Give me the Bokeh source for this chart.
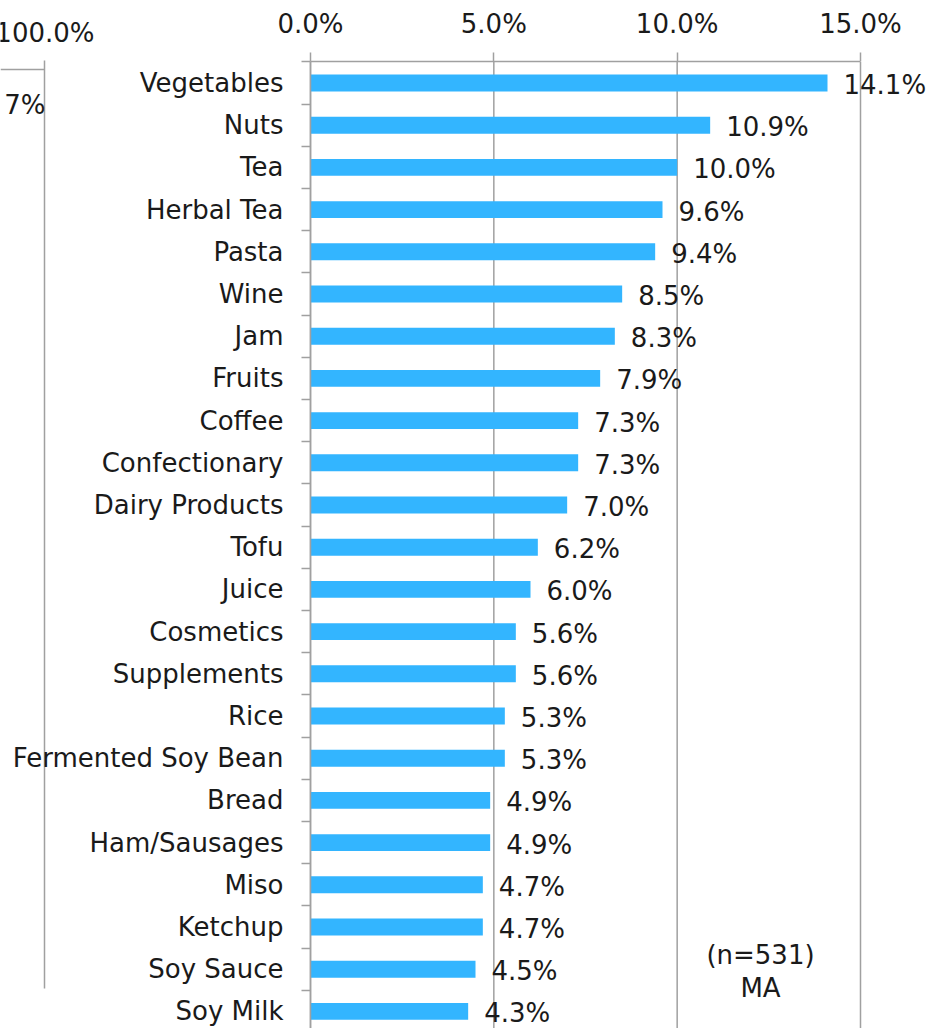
from bokeh.plotting import figure
from bokeh.models import Range1d, FixedTicker, PrintfTickFormatter, ColumnDataSource
from bokeh.embed import file_html
from bokeh.resources import INLINE
from bokeh.core.properties import value

# ---------------- data ----------------
categories = ["Vegetables", "Nuts", "Tea", "Herbal Tea", "Pasta", "Wine", "Jam",
              "Fruits", "Coffee", "Confectionary", "Dairy Products", "Tofu",
              "Juice", "Cosmetics", "Supplements", "Rice", "Fermented Soy Bean",
              "Bread", "Ham/Sausages", "Miso", "Ketchup", "Soy Sauce", "Soy Milk"]
values = [14.1, 10.9, 10.0, 9.6, 9.4, 8.5, 8.3, 7.9, 7.3, 7.3, 7.0, 6.2, 6.0,
          5.6, 5.6, 5.3, 5.3, 4.9, 4.9, 4.7, 4.7, 4.5, 4.3]
x_ticks = [0, 5, 10, 15]
note_lines = ["(n=531)", "MA"]
# fragment of the neighbouring (cropped) chart on the left
neighbor_texts = ["100.0%", "7%"]

# ---------------- layout ----------------
W, H = 930, 1028
PX_PER_UNIT = 550 / 15.0
ROW_PX = 42.2
ZERO_X = 310.0
TOP_Y = 61.4
FONT_NAME = "DejaVu Sans"
FONT = value(FONT_NAME)
FS = "26px"
TXT = "#1a1a1a"
GRID = "#a0a0a0"
BAR = "#33b5ff"

n = len(categories)
idx = list(range(n))
x_start = -ZERO_X / PX_PER_UNIT
x_end = x_start + W / PX_PER_UNIT
y_top = -0.5 - TOP_Y / ROW_PX
y_bottom = y_top + H / ROW_PX


def px_x(px):
    return (px - ZERO_X) / PX_PER_UNIT


def px_y(py):
    return (py - TOP_Y) / ROW_PX - 0.5


p = figure(width=W, height=H, x_range=Range1d(x_start, x_end),
           y_range=Range1d(y_bottom, y_top), x_axis_location="above",
           output_backend="svg", toolbar_location=None, min_border=0,
           outline_line_color=None)
p.grid.visible = False

src = ColumnDataSource(dict(y=idx, v=values, lab=[f"{v:.1f}%" for v in values]))

# gridlines
p.segment(x0=x_ticks, y0=[-0.5] * len(x_ticks), x1=x_ticks, y1=[y_bottom] * len(x_ticks),
          line_color=GRID, line_width=1.5, level="underlay")

p.hbar(y="y", left=0, right="v", height=0.4, source=src,
       fill_color=BAR, line_color=None)

p.text(x="v", y="y", text="lab", source=src, x_offset=16, y_offset=2,
       text_align="left", text_baseline="middle", text_font=FONT,
       text_font_size=FS, text_color=TXT)

# top axis
xa = p.xaxis[0]
xa.fixed_location = -0.5
xa.ticker = FixedTicker(ticks=x_ticks)
xa.formatter = PrintfTickFormatter(format="%.1f%%")
xa.bounds = (x_ticks[0], x_ticks[-1])
xa.major_tick_out = 9
xa.major_tick_in = 0
xa.minor_tick_out = 0
xa.minor_tick_in = 0
xa.axis_line_color = GRID
xa.axis_line_width = 1.5
xa.major_tick_line_color = GRID
xa.major_tick_line_width = 1.5
xa.major_label_text_font = FONT_NAME
xa.major_label_text_font_size = FS
xa.major_label_text_color = TXT
xa.major_label_standoff = 14

# left axis
ya = p.yaxis[0]
ya.fixed_location = 0
ya.ticker = FixedTicker(ticks=idx, minor_ticks=[i - 0.5 for i in range(n + 1)])
ya.major_label_overrides = {i: c for i, c in enumerate(categories)}
ya.bounds = (-0.5, n - 0.5)
ya.major_tick_out = 0
ya.major_tick_in = 0
ya.minor_tick_out = 9
ya.minor_tick_in = 0
ya.axis_line_color = GRID
ya.axis_line_width = 1.5
ya.minor_tick_line_color = GRID
ya.minor_tick_line_width = 1.5
ya.major_label_text_font = FONT_NAME
ya.major_label_text_font_size = FS
ya.major_label_text_color = TXT
ya.major_label_standoff = 18

# note
p.text(x=[px_x(760)] * 2, y=[px_y(954), px_y(987)], text=note_lines,
       text_align="center", text_baseline="middle", text_font=FONT,
       text_font_size=FS, text_color=TXT)

# fragment of neighbouring chart
p.segment(x0=[px_x(44), x_start], y0=[px_y(60), px_y(69)],
          x1=[px_x(44), px_x(44)], y1=[px_y(988), px_y(69)],
          line_color=GRID, line_width=1.5)
p.text(x=[px_x(94), px_x(45)], y=[px_y(32), px_y(104)], text=neighbor_texts,
       text_align="right", text_baseline="middle", text_font=FONT,
       text_font_size=FS, text_color=TXT)

open("out.html", "w").write(file_html(p, INLINE))
